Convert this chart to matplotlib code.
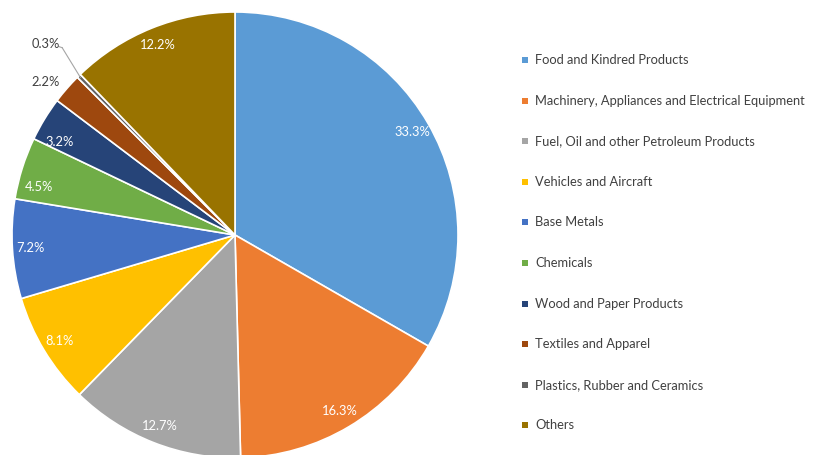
import matplotlib
matplotlib.use("Agg")
import matplotlib.pyplot as plt
import numpy as np
from matplotlib.patches import Rectangle

categories = ["Food and Kindred Products",
              "Machinery, Appliances and Electrical Equipment",
              "Fuel, Oil and other Petroleum Products",
              "Vehicles and Aircraft",
              "Base Metals",
              "Chemicals",
              "Wood and Paper Products",
              "Textiles and Apparel",
              "Plastics, Rubber and Ceramics",
              "Others"]
values = [33.3, 16.3, 12.7, 8.1, 7.2, 4.5, 3.2, 2.2, 0.3, 12.2]
colors = ["#5B9BD5", "#ED7D31", "#A5A5A5", "#FFC000", "#4472C4",
          "#70AD47", "#264478", "#9E480E", "#636363", "#997300"]

plt.rcParams['font.family'] = ['Lato', 'DejaVu Sans']
W, H = 818, 455
fig = plt.figure(figsize=(W/100, H/100), dpi=100)
cx, cy, r = 235, 235, 223
ax = fig.add_axes([(cx - r)/W, (H - cy - r)/H, 2*r/W, 2*r/H])

wedges, _ = ax.pie(values, colors=colors, startangle=90, counterclock=False,
                   radius=1, wedgeprops=dict(edgecolor='white', linewidth=1.2))
ax.set_xlim(-1, 1); ax.set_ylim(-1, 1); ax.set_aspect('equal'); ax.axis('off')
for w in wedges:
    w.set_clip_on(False)

fs = 9.3
for i, (w, v) in enumerate(zip(wedges, values)):
    mid = ((w.theta1 + w.theta2) / 2) % 360
    ang = np.deg2rad(mid)
    txt = f"{v:.1f}%"
    if v < 1.0:
        ex, ey = np.cos(ang), np.sin(ang)
        ax.plot([ex*0.99, -0.775], [ey*0.99, 0.84], color='#A5A5A5', lw=0.8, clip_on=False)
        ax.plot([-0.775, -0.79], [0.84, 0.845], color='#A5A5A5', lw=0.8, clip_on=False)
        ax.text(-0.85, 0.855, txt, ha='center', va='center', fontsize=fs, color='#404040')
    elif v < 3.0:
        ax.text(1.1*np.cos(ang) - 0.02, 1.1*np.sin(ang) - 0.035, txt, ha='center', va='center',
                fontsize=fs, color='#404040')
    else:
        d = 0.92
        shift = 0.06 if 140 < mid < 180 else 0.0
        ax.text(d*np.cos(ang), d*np.sin(ang) - shift, txt,
                ha='center', va='center', fontsize=fs, color='white')

# legend
y0, dy = 60, 40.6
for i, (c, lab) in enumerate(zip(colors, categories)):
    y = y0 + i*dy
    s = 6
    fig.patches.append(Rectangle(((525 - s/2)/W, (H - y - s/2)/H), s/W, s/H,
                                 transform=fig.transFigure, facecolor=c, edgecolor='none'))
    fig.text(535/W, (H - y)/H, lab, ha='left', va='center', fontsize=fs, color='#404040')

fig.savefig("out.png", dpi=100, facecolor='white')
